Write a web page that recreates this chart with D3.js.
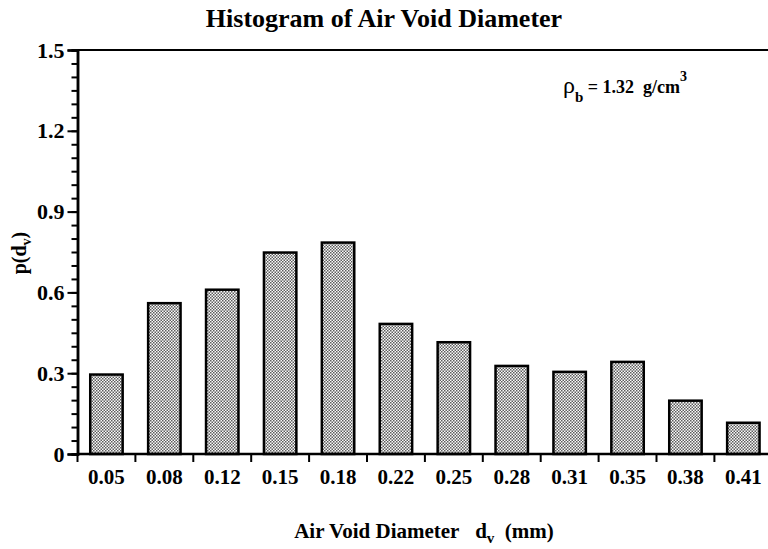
<!DOCTYPE html>
<html>
<head>
<meta charset="utf-8">
<script src="https://cdn.jsdelivr.net/npm/d3@7"></script>
<style>
  body { margin: 0; background: #fff; }
</style>
</head>
<body>
<div id="chart"></div>
<script>
// histogram data
var diameters = ["0.05", "0.08", "0.12", "0.15", "0.18", "0.22", "0.25", "0.28", "0.31", "0.35", "0.38", "0.41"]
var density = [0.295, 0.56, 0.61, 0.748, 0.785, 0.483, 0.415, 0.327, 0.305, 0.342, 0.198, 0.116]
var yMajor = [0, 0.3, 0.6, 0.9, 1.2, 1.5]

var W = 768, H = 549
var margin = {top: 50, left: 77.5, bottom: 95}
var serif = "Liberation Serif"

var svg = d3.select("#chart").append("svg")
    .attr("width", W)
    .attr("height", H)

// stipple fill like the printed bars
var pat = svg.append("defs").append("pattern")
    .attr("id", "dots")
    .attr("patternUnits", "userSpaceOnUse")
    .attr("width", 3).attr("height", 3)
pat.append("rect").attr("width", 3).attr("height", 3).attr("fill", "#fafafa")
pat.append("rect").attr("width", 1.5).attr("height", 1.5).attr("fill", "#5c5c5c")
pat.append("rect").attr("x", 1.5).attr("y", 1.5).attr("width", 1.5).attr("height", 1.5).attr("fill", "#5c5c5c")

var data = diameters.map(function(d, i) { return {key: d, value: density[i]} })

var x = d3.scaleBand()
    .domain(diameters)
    .range([margin.left, margin.left + 12 * 57.9])
    .padding(0)
var y = d3.scaleLinear()
    .domain([0, 1.5])
    .range([H - margin.bottom, margin.top])

var barW = x.bandwidth() * 0.56

// bars
svg.selectAll(".bar")
    .data(data)
    .enter()
    .append("rect")
    .attr("class", "bar")
    .attr("x", function(d) { return x(d.key) + (x.bandwidth() - barW) / 2 })
    .attr("width", barW)
    .attr("y", function(d) { return y(d.value) })
    .attr("height", function(d) { return y(0) - y(d.value) })
    .attr("fill", "url(#dots)")
    .attr("stroke", "#000")
    .attr("stroke-width", 2.5)

// top frame line
svg.append("line")
    .attr("x1", margin.left).attr("x2", W)
    .attr("y1", y(1.5)).attr("y2", y(1.5))
    .attr("stroke", "#000").attr("stroke-width", 2)

// y axis: minor ticks, then major with labels
svg.append("g")
    .attr("class", "yminor")
    .attr("transform", "translate(" + margin.left + ",0)")
    .call(d3.axisLeft(y).tickValues(d3.range(0, 31).map(function(i) { return i * 0.05 })).tickSize(6).tickFormat(""))
svg.append("g")
    .attr("class", "yaxis")
    .attr("transform", "translate(" + margin.left + ",0)")
    .call(d3.axisLeft(y).tickValues(yMajor).tickSize(10).tickPadding(3)
      .tickFormat(function(d) { return d === 0 ? "0" : d3.format(".1f")(d) }))
svg.selectAll(".yminor path, .yaxis path").attr("stroke-width", 2.5)
svg.selectAll(".yminor line, .yaxis line").attr("stroke-width", 2)
svg.selectAll(".yaxis text").attr("font-size", 22)

// x axis: labels at band centres, ticks at band edges
svg.append("g")
    .attr("class", "xaxis")
    .attr("transform", "translate(0," + y(0) + ")")
    .call(d3.axisBottom(x).tickSize(0).tickPadding(15))
svg.select(".xaxis path")
    .attr("d", "M" + margin.left + ",0H" + W)
    .attr("stroke-width", 2.5)
svg.selectAll(".xaxis text").attr("font-size", 21)
svg.select(".xaxis").selectAll(".edge")
    .data(diameters)
    .enter()
    .append("line")
    .attr("class", "edge")
    .attr("x1", function(d) { return x(d) }).attr("x2", function(d) { return x(d) })
    .attr("y1", 0).attr("y2", 8)
    .attr("stroke", "#000").attr("stroke-width", 2)

// title
svg.append("text")
    .attr("x", 384).attr("y", 27)
    .attr("text-anchor", "middle")
    .attr("font-size", 26)
    .text("Histogram of Air Void Diameter")

// x axis label
var xl = svg.append("text")
    .attr("x", 424).attr("y", 538)
    .attr("text-anchor", "middle")
    .attr("font-size", 21)
xl.append("tspan").text("Air Void Diameter\u00a0\u00a0\u00a0d")
xl.append("tspan").attr("dy", 5).attr("font-size", 15).text("v")
xl.append("tspan").attr("dy", -5).text("\u00a0\u00a0(mm)")

// y axis label
var yl = svg.append("text")
    .attr("transform", "translate(26,253) rotate(-90)")
    .attr("text-anchor", "middle")
    .attr("font-size", 20)
yl.append("tspan").text("p(d")
yl.append("tspan").attr("dy", 5).attr("font-size", 14).text("v")
yl.append("tspan").attr("dy", -5).text(")")

// bulk density note
var note = svg.append("text")
    .attr("x", 563).attr("y", 93)
    .attr("font-size", 18)
note.append("tspan").attr("font-weight", "normal").attr("font-size", 24).text("\u03c1")
note.append("tspan").attr("dy", 9).attr("font-size", 15).text("b")
note.append("tspan").attr("dy", -9).text("\u00a0= 1.32\u00a0 g/cm")
note.append("tspan").attr("dy", -12).attr("font-size", 14).text("3")

svg.selectAll("text")
    .attr("font-family", serif)
    .attr("fill", "#000")
svg.selectAll("text").filter(function() { return !this.getAttribute("font-weight") })
    .attr("font-weight", "bold")
</script>
</body>
</html>
